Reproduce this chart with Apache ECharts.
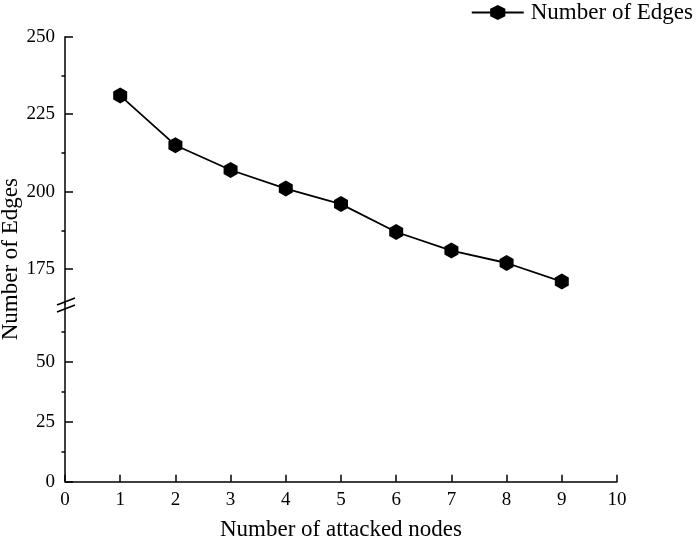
<!DOCTYPE html>
<html>
<head>
<meta charset="utf-8">
<script src="https://cdn.jsdelivr.net/npm/echarts@6/dist/echarts.min.js"></script>
<style>html,body{margin:0;padding:0;background:#fff;}#c{width:698px;height:543px;}</style>
</head>
<body>
<div id="c"></div>
<script>
var xValues = [1, 2, 3, 4, 5, 6, 7, 8, 9];
var edgeCounts = [231, 215, 207, 201, 196, 187, 181, 177, 171];
var seriesName = 'Number of Edges';
var xAxisName = 'Number of attacked nodes';
var yAxisName = 'Number of Edges';
var upperMajorTicks = [175, 200, 225, 250];
var upperMinorTicks = [187.5, 212.5, 237.5];
var lowerMajorTicks = [0, 25, 50];
var lowerMinorTicks = [12.5, 37.5, 62.5];

var FONT = '"Liberation Serif", "Times New Roman", serif';
var hex = 'path://M0,-1L0.866,-0.5L0.866,0.5L0,1L-0.866,0.5L-0.866,-0.5Z';

var upperTop = 36.7, breakY = 304, axisBottom = 481.7;
var upperMin = 250 - (breakY - upperTop) / 3.1;
var lowerMax = (axisBottom - breakY) / 2.4;

function yMajor(grid, min, max, vals) {
  return {
    type: 'value', gridIndex: grid, min: min, max: max, position: 'left',
    axisLine: { show: true, lineStyle: { color: '#000', width: 1.5 } },
    axisTick: { show: true, inside: true, length: 8, lineStyle: { color: '#000', width: 1.5 }, customValues: vals },
    axisLabel: { show: true, color: '#000', fontFamily: FONT, fontSize: 19, margin: 10, customValues: vals },
    splitLine: { show: false }
  };
}
function yMinor(grid, min, max, vals) {
  return {
    type: 'value', gridIndex: grid, min: min, max: max, position: 'left', offset: 0,
    axisLine: { show: false },
    axisTick: { show: true, inside: false, length: 3.5, lineStyle: { color: '#000', width: 1.5 }, customValues: vals },
    axisLabel: { show: false },
    splitLine: { show: false }
  };
}

var chart = echarts.init(document.getElementById('c'), null, { renderer: 'canvas' });
chart.setOption({
  backgroundColor: '#fff',
  animation: false,
  legend: {
    data: [seriesName], right: 0, top: -4,
    itemWidth: 52, itemHeight: 19, itemGap: 10,
    textStyle: { fontFamily: FONT, fontSize: 23, color: '#000', padding: [0, 0, 0, 2] }
  },
  grid: [
    { left: 65, right: 81, top: upperTop, height: breakY - upperTop },
    { left: 65, right: 81, top: breakY, height: axisBottom - breakY }
  ],
  xAxis: [
    { type: 'value', gridIndex: 0, min: 0, max: 10, interval: 1, show: false },
    {
      type: 'value', gridIndex: 1, min: 0, max: 10, interval: 1,
      name: xAxisName, nameLocation: 'middle', nameGap: 37,
      nameTextStyle: { fontFamily: FONT, fontSize: 23, color: '#000' },
      axisLine: { show: true, onZero: false, lineStyle: { color: '#000', width: 1.5 } },
      axisTick: { show: true, inside: true, length: 7, lineStyle: { color: '#000', width: 1.5 } },
      axisLabel: { color: '#000', fontFamily: FONT, fontSize: 19, margin: 9 },
      splitLine: { show: false }
    }
  ],
  yAxis: [
    yMajor(0, upperMin, 250, upperMajorTicks),
    yMinor(0, upperMin, 250, upperMinorTicks),
    yMajor(1, 0, lowerMax, lowerMajorTicks),
    yMinor(1, 0, lowerMax, lowerMinorTicks)
  ],
  graphic: [
    { type: 'text', x: 11, y: (upperTop + axisBottom) / 2, rotation: Math.PI / 2,
      style: { text: yAxisName, fontFamily: FONT, fontSize: 23, fill: '#000', align: 'center', verticalAlign: 'middle' } },
    { type: 'line', shape: { x1: 57, y1: 305, x2: 75, y2: 298 }, style: { stroke: '#000', lineWidth: 1.8 } },
    { type: 'line', shape: { x1: 57, y1: 312, x2: 75, y2: 305 }, style: { stroke: '#000', lineWidth: 1.8 } }
  ],
  series: [{
    name: seriesName, type: 'line', xAxisIndex: 0, yAxisIndex: 0,
    data: xValues.map(function (x, i) { return [x, edgeCounts[i]]; }),
    symbol: hex, symbolSize: [14, 16],
    itemStyle: { color: '#000' },
    lineStyle: { color: '#000', width: 1.8 }
  }]
});
</script>
</body>
</html>
